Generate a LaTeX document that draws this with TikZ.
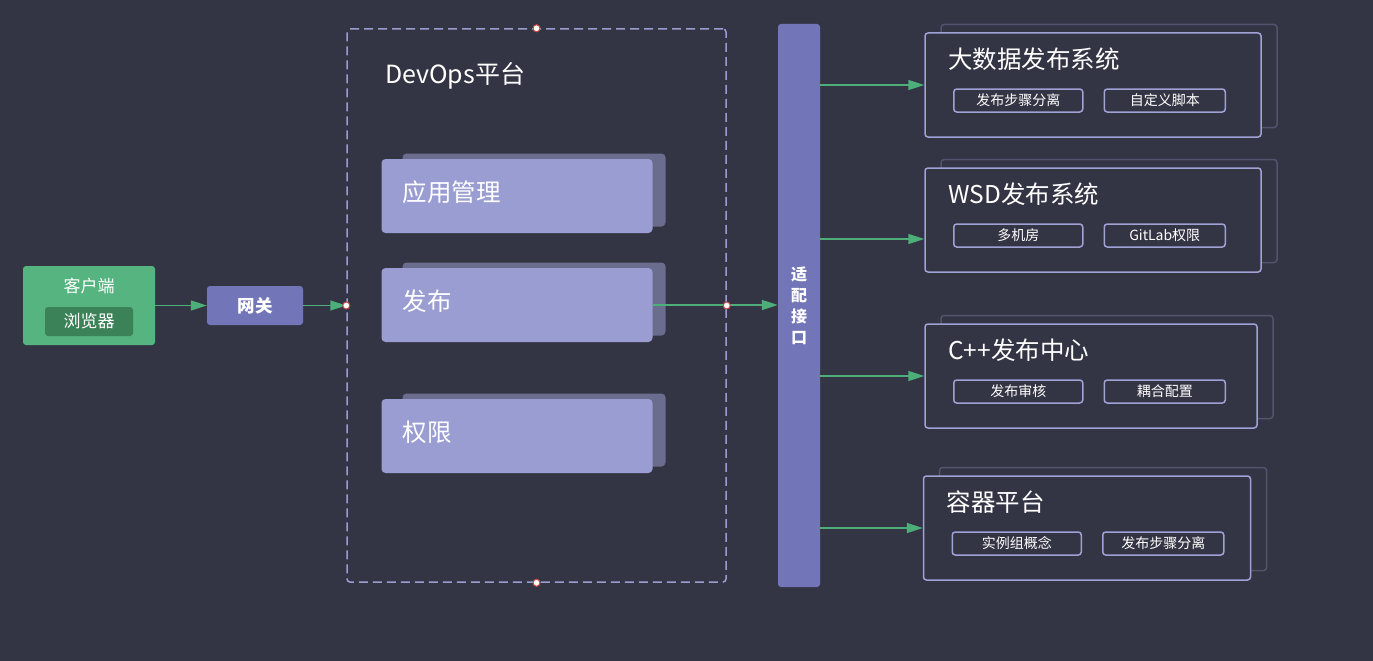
\documentclass[tikz,border=0pt]{standalone}
\usepackage{fontspec}
\setmainfont{Noto Sans CJK SC}
\usepackage{xcolor}
\usepackage{tikz}
\usetikzlibrary{positioning,shapes,arrows.meta}
\definecolor{bgdark}{RGB}{52,53,68}
\definecolor{clientgreen}{RGB}{86,180,128}
\definecolor{browsergreen}{RGB}{60,130,88}
\definecolor{gatepurple}{RGB}{114,118,184}
\definecolor{modlilac}{RGB}{154,157,210}
\definecolor{modshade}{RGB}{107,109,142}
\definecolor{sysline}{RGB}{160,162,214}
\definecolor{sysshade}{RGB}{82,83,108}
\definecolor{arrowgreen}{RGB}{76,175,122}
\definecolor{dotred}{RGB}{200,70,70}
\tikzstyle{client}=[rectangle, rounded corners=3pt, fill=clientgreen, minimum width=132pt, minimum height=79pt]
\tikzstyle{browser}=[rectangle, rounded corners=3pt, fill=browsergreen, text=white, minimum width=88pt,
        minimum height=29pt, inner sep=0pt, font=\fontsize{17}{20}\selectfont]
\tikzstyle{gateway}=[rectangle, rounded corners=3pt, fill=gatepurple, text=white, minimum width=96pt,
        minimum height=39pt, inner sep=0pt, font=\fontsize{17.5}{20}\selectfont\bfseries]
\tikzstyle{platform}=[rectangle, rounded corners=3pt, draw=modlilac, line width=1.5pt, dash pattern=on 9pt off 5pt,
        minimum width=379pt, minimum height=553pt]
\tikzstyle{module}=[rectangle, rounded corners=4pt, fill=modlilac, text=white, text width=229pt, inner xsep=21pt,
        minimum height=74pt, align=left, font=\fontsize{24.5}{28}\selectfont]
\tikzstyle{modshadow}=[rectangle, rounded corners=4pt, fill=modshade, minimum width=263pt, minimum height=73pt]
\tikzstyle{adaptor}=[rectangle, rounded corners=3pt, fill=gatepurple, text=white, minimum width=42pt,
        minimum height=563pt, align=center, font=\fontsize{16}{21}\selectfont\bfseries]
\tikzstyle{system}=[rectangle, rounded corners=3pt, draw=sysline, fill=bgdark, line width=1.5pt, minimum height=104pt]
\tikzstyle{sysshadow}=[rectangle, rounded corners=3pt, draw=sysshade, fill=bgdark, line width=1.5pt, minimum height=103pt]
\tikzstyle{systitle}=[anchor=west, inner sep=0pt, text=white, font=\fontsize{24.5}{28}\selectfont]
\tikzstyle{chip}=[rectangle, rounded corners=3pt, draw=sysline, line width=1.5pt, text=white, minimum height=23pt,
        inner sep=0pt, font=\fontsize{14}{16}\selectfont]
\tikzstyle{flow}=[draw=arrowgreen, line width=1.5pt, -{Triangle[length=16pt,width=10pt]}]
\tikzstyle{dot}=[circle, fill=white, draw=dotred, line width=1pt, minimum size=7pt, inner sep=0pt]
\begin{document}
\begin{tikzpicture}[x=1pt, y=-1pt]
        \fill[bgdark] (0,0) rectangle (1373,661);
        \useasboundingbox (0,0) rectangle (1373,661);
        % client and gateway
        \node (client) [client] at (89,305.5) {};
        \node (clienttitle) [text=white, font=\fontsize{17}{20}\selectfont] at (89,286) {客户端};
        \node (browser) [browser] at (89,321.5) {浏览器};
        \node (gateway) [gateway] at (255,305.5) {网关};
        % devops platform
        \node (devops) [platform] at (536.5,305.5) {};
        \node (devopstitle) [systitle, font=\fontsize{25}{29}\selectfont] at (385,76) {DevOps平台};
        \foreach \mod/\txt/\y in {apps/应用管理/196, release/发布/305, perm/权限/436}
        {
          \node [modshadow] at (534,\y-6) {};
          \node (\mod) [module] at (517,\y) {\raisebox{4pt}[\height][\depth]{\txt}};
        }
        \node (adaptor) [adaptor] at (799,305.5) {适\\配\\接\\口};
        % downstream systems
        \foreach \sys/\title/\x/\y/\w/\partA/\partB in {
          bigdata/大数据发布系统/1093/85/336/发布步骤分离/自定义脚本,
          wsd/WSD发布系统/1093/220/336/多机房/GitLab权限,
          cpp/C++发布中心/1091/376/332/发布审核/耦合配置,
          container/容器平台/1087/528/327/实例组概念/发布步骤分离}
        {
          \node [sysshadow, minimum width=\w pt] at (\x+16,\y-9) {};
          \node (\sys) [system, minimum width=\w pt] at (\x,\y) {};
          \node (\sys-title) [systitle] at (\x-\w/2+23,\y-26) {\title};
          \node (\sys-a) [chip, minimum width=129pt, anchor=west] at (\x-\w/2+28,\y+15.5) {\partA};
          \node (\sys-b) [chip, minimum width=121pt, right=20pt of \sys-a] {\partB};
        }
        \coordinate (wsdin) at ([yshift=-19pt]wsd.west);
        % connectors
        \draw[flow] (client) -- (gateway);
        \draw[flow] (gateway) -- (devops.west);
        \draw[flow] (release.east) -- (adaptor.west |- release.east);
        \foreach \sys in {bigdata,cpp,container}
          \draw[flow] (adaptor.east |- \sys.west) -- (\sys.west);
        \draw[flow] (adaptor.east |- wsdin) -- (wsdin);
        \foreach \a in {north,south,west,east}
          \node [dot] at (devops.\a) {};
\end{tikzpicture}
\end{document}
